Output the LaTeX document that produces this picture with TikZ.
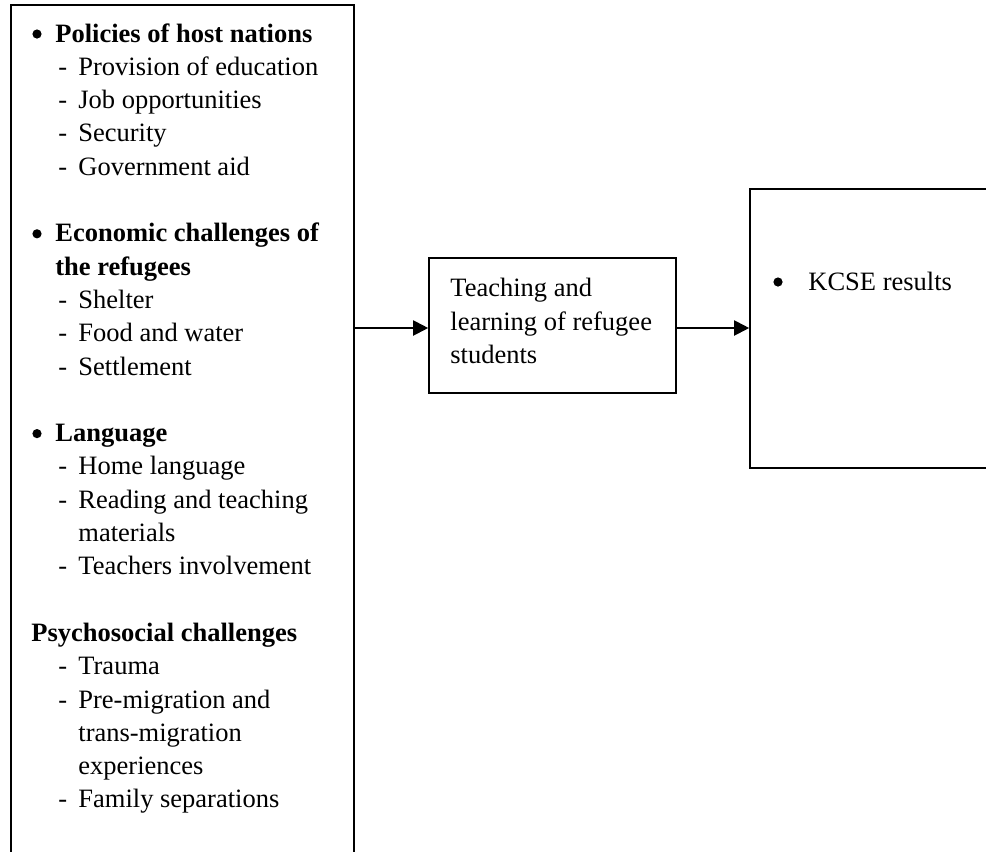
\documentclass[tikz,border=0pt]{standalone}
\usepackage{fontspec}
\setmainfont{Liberation Serif}
\usetikzlibrary{arrows.meta,fit}
\begin{document}
\begin{tikzpicture}[x=0.5pt,y=-0.5pt,
  box/.style={draw, line width=0.8pt, inner sep=0pt},
  txt/.style={anchor=base west, inner sep=0pt, font=\fontsize{13.25pt}{16.65pt}\selectfont},
  btxt/.style={txt, font=\fontsize{13.25pt}{16.65pt}\selectfont\bfseries},
  bul/.style={circle, fill, inner sep=0pt, minimum size=4.6pt},
  conn/.style={line width=1pt, -{Triangle[length=7.5pt,width=7.5pt]}}]
\useasboundingbox (0,0) rectangle (986,852);
% boxes
\coordinate (lA) at (11,5);   \coordinate (lB) at (354,900);
\coordinate (mA) at (429,258); \coordinate (mB) at (676,393);
\coordinate (rA) at (750,189); \coordinate (rB) at (1050,468);
\node[box, fit=(lA)(lB)] (left) {};
\node[box, fit=(mA)(mB)] (mid) {};
\node[box, fit=(rA)(rB)] (right) {};
% connectors
\draw[conn] (left.east |- 0,328) coordinate (c1) -- (mid.west |- c1);
\draw[conn] (mid.east |- c1) -- (right.west |- c1);
% left box text
\def\bx{37}\def\hx{55}\def\dx{58}\def\ix{78}
\node[bul] (b1) at (\bx,34) {};
\node[btxt] (l1) at (\hx,42) {Policies of host nations};
\node[txt] (d2) at (\dx,75.3) {-}; \node[txt] (l2) at (\ix,75.3) {Provision of education};
\node[txt] (d3) at (\dx,108.6) {-}; \node[txt] (l3) at (\ix,108.6) {Job opportunities};
\node[txt] (d4) at (\dx,141.9) {-}; \node[txt] (l4) at (\ix,141.9) {Security};
\node[txt] (d5) at (\dx,175.2) {-}; \node[txt] (l5) at (\ix,175.2) {Government aid};
\node[bul] (b7) at (\bx,233.8) {};
\node[btxt] (l7) at (\hx,241.8) {Economic challenges of};
\node[btxt] (l8) at (\hx,275.1) {the refugees};
\node[txt] (d9) at (\dx,308.4) {-}; \node[txt] (l9) at (\ix,308.4) {Shelter};
\node[txt] (d10) at (\dx,341.7) {-}; \node[txt] (l10) at (\ix,341.7) {Food and water};
\node[txt] (d11) at (\dx,375.0) {-}; \node[txt] (l11) at (\ix,375.0) {Settlement};
\node[bul] (b13) at (\bx,433.6) {};
\node[btxt] (l13) at (\hx,441.6) {Language};
\node[txt] (d14) at (\dx,474.9) {-}; \node[txt] (l14) at (\ix,474.9) {Home language};
\node[txt] (d15) at (\dx,508.2) {-}; \node[txt] (l15) at (\ix,508.2) {Reading and teaching};
\node[txt] (l16) at (\ix,541.5) {materials};
\node[txt] (d17) at (\dx,574.8) {-}; \node[txt] (l17) at (\ix,574.8) {Teachers involvement};
\node[btxt] (l19) at (31,641.4) {Psychosocial challenges};
\node[txt] (d20) at (\dx,674.7) {-}; \node[txt] (l20) at (\ix,674.7) {Trauma};
\node[txt] (d21) at (\dx,708.0) {-}; \node[txt] (l21) at (\ix,708.0) {Pre-migration and};
\node[txt] (l22) at (\ix,741.3) {trans-migration};
\node[txt] (l23) at (\ix,774.6) {experiences};
\node[txt] (d24) at (\dx,807.9) {-}; \node[txt] (l24) at (\ix,807.9) {Family separations};
% middle box text
\node[txt] (m1) at (450,296) {Teaching and};
\node[txt] (m2) at (450,330) {learning of refugee};
\node[txt] (m3) at (450,363) {students};
% right box text
\node[bul] (rb) at (778,282) {};
\node[txt] (r1) at (808,290) {KCSE results};
\end{tikzpicture}
\end{document}
